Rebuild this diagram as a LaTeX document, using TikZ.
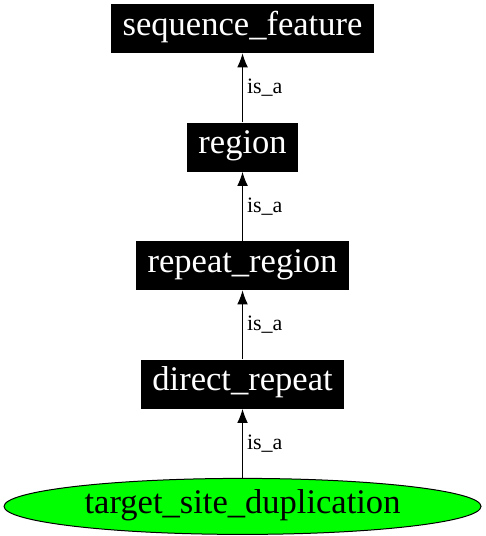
\documentclass[tikz,border=0pt]{standalone}
\usepackage{fontspec}
\setmainfont{Liberation Serif}
\usetikzlibrary{shapes.geometric, arrows.meta, positioning}
\tikzstyle{term} = [rectangle, minimum height = 36.75pt, inner xsep = 8.6pt, inner ysep = 2pt, text height = 17.5pt, text depth = 7.5pt, text = white, fill = black, font = \fontsize{25.9pt}{30pt}\selectfont]
\tikzstyle{leaf} = [ellipse, draw, line width = 0.75pt, minimum width = 357.75pt, minimum height = 42pt, inner sep = 0pt, text height = 17.5pt, text depth = 7.5pt, fill = green, font = \fontsize{25.9pt}{30pt}\selectfont]
\tikzstyle{isa} = [line width = 0.75pt, -{Latex[length = 10.5pt, width = 8pt]}]
\tikzstyle{rel} = [anchor = west, xshift = 2pt, inner sep = 1pt, font = \fontsize{16.5pt}{20pt}\selectfont]

\begin{document}
\begin{tikzpicture}[node distance = 51.75pt]
  \useasboundingbox (-181.9pt, 21.4pt) rectangle (181.9pt, -380.6pt);
  \node (seqfeat) [term] {sequence\_feature};
  \node (region) [term, below = of seqfeat] {region};
  \node (repeatreg) [term, below = of region] {repeat\_region};
  \node (directrep) [term, below = of repeatreg] {direct\_repeat};
  \node (tsd) [leaf, below = of directrep] {target\_site\_duplication};
  \draw [isa] (region) -- node[rel] {is\_a} (seqfeat);
  \draw [isa] (repeatreg) -- node[rel] {is\_a} (region);
  \draw [isa] (directrep) -- node[rel] {is\_a} (repeatreg);
  \draw [isa] (tsd) -- node[rel] {is\_a} (directrep);
\end{tikzpicture}
\end{document}
